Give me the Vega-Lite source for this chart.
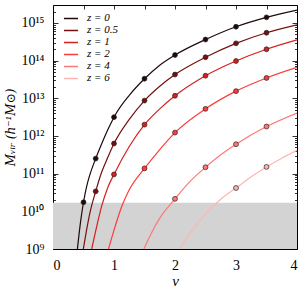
{
"$schema":"https://vega.github.io/schema/vega-lite/v6.json",
"width":244,"height":244,"autosize":{"type":"none"},
"padding":{"left":53,"top":5,"right":5,"bottom":42},
"background":"white",
"config":{"view":{"stroke":"#000","strokeWidth":1},
 "axis":{"grid":false,"domain":false,"tickColor":"#000","tickWidth":0.8,"labelFont":"Liberation Serif","labelFontSize":14,"labelColor":"#000","titleFont":"DejaVu Serif","titleColor":"#000","titleFontWeight":"normal"}},
"datasets":{
 "lines":[
  {"z":"z = 0","nu":0.4,"M":1e9},{"z":"z = 0","nu":0.45,"M":5.01e9},{"z":"z = 0","nu":0.5,"M":1.74e10},{"z":"z = 0","nu":0.55,"M":4.47e10},{"z":"z = 0","nu":0.6,"M":8.91e10},{"z":"z = 0","nu":0.7,"M":2.51e11},{"z":"z = 0","nu":0.8,"M":6.31e11},{"z":"z = 0","nu":0.9,"M":1.48e12},{"z":"z = 0","nu":1.0,"M":3.16e12},{"z":"z = 0","nu":1.25,"M":1.2e13},{"z":"z = 0","nu":1.5,"M":3.31e13},{"z":"z = 0","nu":1.75,"M":7.59e13},{"z":"z = 0","nu":2.0,"M":1.41e14},{"z":"z = 0","nu":2.5,"M":3.63e14},{"z":"z = 0","nu":3.0,"M":7.94e14},{"z":"z = 0","nu":3.5,"M":1.41e15},{"z":"z = 0","nu":4.0,"M":2.19e15},
  {"z":"z = 0.5","nu":0.497,"M":1e9},{"z":"z = 0.5","nu":0.55,"M":3.16e9},{"z":"z = 0.5","nu":0.6,"M":8.32e9},{"z":"z = 0.5","nu":0.7,"M":3.39e10},{"z":"z = 0.5","nu":0.8,"M":1.12e11},{"z":"z = 0.5","nu":0.9,"M":2.75e11},{"z":"z = 0.5","nu":1.0,"M":6.31e11},{"z":"z = 0.5","nu":1.25,"M":2.75e12},{"z":"z = 0.5","nu":1.5,"M":8.71e12},{"z":"z = 0.5","nu":1.75,"M":2.09e13},{"z":"z = 0.5","nu":2.0,"M":4.27e13},{"z":"z = 0.5","nu":2.5,"M":1.23e14},{"z":"z = 0.5","nu":3.0,"M":2.88e14},{"z":"z = 0.5","nu":3.5,"M":5.5e14},{"z":"z = 0.5","nu":4.0,"M":8.91e14},
  {"z":"z = 1","nu":0.634,"M":1e9},{"z":"z = 1","nu":0.7,"M":3.02e9},{"z":"z = 1","nu":0.8,"M":1.41e10},{"z":"z = 1","nu":0.9,"M":4.37e10},{"z":"z = 1","nu":1.0,"M":9.55e10},{"z":"z = 1","nu":1.25,"M":5.25e11},{"z":"z = 1","nu":1.5,"M":2.0e12},{"z":"z = 1","nu":1.75,"M":5.25e12},{"z":"z = 1","nu":2.0,"M":1.17e13},{"z":"z = 1","nu":2.5,"M":3.98e13},{"z":"z = 1","nu":3.0,"M":9.77e13},{"z":"z = 1","nu":3.5,"M":2.0e14},{"z":"z = 1","nu":4.0,"M":3.55e14},
  {"z":"z = 2","nu":0.91,"M":1e9},{"z":"z = 2","nu":1.0,"M":3.16e9},{"z":"z = 2","nu":1.125,"M":1.32e10},{"z":"z = 2","nu":1.25,"M":3.72e10},{"z":"z = 2","nu":1.5,"M":1.38e11},{"z":"z = 2","nu":1.75,"M":4.37e11},{"z":"z = 2","nu":2.0,"M":1.23e12},{"z":"z = 2","nu":2.5,"M":5.25e12},{"z":"z = 2","nu":3.0,"M":1.55e13},{"z":"z = 2","nu":3.5,"M":3.47e13},{"z":"z = 2","nu":4.0,"M":6.61e13},
  {"z":"z = 4","nu":1.49,"M":1e9},{"z":"z = 4","nu":1.6,"M":2.4e9},{"z":"z = 4","nu":1.75,"M":6.61e9},{"z":"z = 4","nu":2.0,"M":2.14e10},{"z":"z = 4","nu":2.25,"M":6.31e10},{"z":"z = 4","nu":2.5,"M":1.48e11},{"z":"z = 4","nu":2.75,"M":3.16e11},{"z":"z = 4","nu":3.0,"M":6.03e11},{"z":"z = 4","nu":3.5,"M":1.78e12},{"z":"z = 4","nu":4.0,"M":4.07e12},
  {"z":"z = 6","nu":2.08,"M":1e9},{"z":"z = 6","nu":2.25,"M":2.69e9},{"z":"z = 6","nu":2.5,"M":8.51e9},{"z":"z = 6","nu":2.75,"M":2.09e10},{"z":"z = 6","nu":3.0,"M":4.17e10},{"z":"z = 6","nu":3.25,"M":8.32e10},{"z":"z = 6","nu":3.5,"M":1.51e11},{"z":"z = 6","nu":3.75,"M":2.57e11},{"z":"z = 6","nu":4.0,"M":4.17e11}
 ],
 "points":[
  {"z":"z = 0","nu":0.5,"M":1.74e10},{"z":"z = 0","nu":0.7,"M":2.51e11},{"z":"z = 0","nu":1.0,"M":3.16e12},{"z":"z = 0","nu":1.5,"M":3.31e13},{"z":"z = 0","nu":2.0,"M":1.41e14},{"z":"z = 0","nu":2.5,"M":3.63e14},{"z":"z = 0","nu":3.0,"M":7.94e14},{"z":"z = 0","nu":3.5,"M":1.41e15},
  {"z":"z = 0.5","nu":0.7,"M":3.39e10},{"z":"z = 0.5","nu":1.0,"M":6.31e11},{"z":"z = 0.5","nu":1.5,"M":8.71e12},{"z":"z = 0.5","nu":2.0,"M":4.27e13},{"z":"z = 0.5","nu":2.5,"M":1.23e14},{"z":"z = 0.5","nu":3.0,"M":2.88e14},{"z":"z = 0.5","nu":3.5,"M":5.5e14},
  {"z":"z = 1","nu":1.0,"M":9.55e10},{"z":"z = 1","nu":1.5,"M":2.0e12},{"z":"z = 1","nu":2.0,"M":1.17e13},{"z":"z = 1","nu":2.5,"M":3.98e13},{"z":"z = 1","nu":3.0,"M":9.77e13},{"z":"z = 1","nu":3.5,"M":2.0e14},
  {"z":"z = 2","nu":1.5,"M":1.38e11},{"z":"z = 2","nu":2.0,"M":1.23e12},{"z":"z = 2","nu":2.5,"M":5.25e12},{"z":"z = 2","nu":3.0,"M":1.55e13},{"z":"z = 2","nu":3.5,"M":3.47e13},
  {"z":"z = 4","nu":2.0,"M":2.14e10},{"z":"z = 4","nu":2.5,"M":1.48e11},{"z":"z = 4","nu":3.0,"M":6.03e11},{"z":"z = 4","nu":3.5,"M":1.78e12},
  {"z":"z = 6","nu":3.0,"M":4.17e10},{"z":"z = 6","nu":3.5,"M":1.51e11}
 ]
},
"resolve":{"scale":{"x":"independent","y":"independent"}},
"layer":[
 {"data":{"values":[{}]},
  "mark":{"type":"rect","color":"#d3d3d3"},
  "encoding":{
   "x":{"datum":0,"type":"quantitative","scale":{"domain":[0,4],"nice":false,"zero":false},
    "axis":{"orient":"bottom","values":[0,0.5,1,1.5,2,2.5,3,3.5,4],"labelExpr":"datum.value % 1 == 0 ? format(datum.value, 'd') : ''","tickSize":-4,"labelPadding":13,"title":"ν","titleFont":"Liberation Serif","titleFontStyle":"italic","titleFontSize":15,"titlePadding":1}},
   "x2":{"datum":4},
   "y":{"datum":1e9,"type":"quantitative","scale":{"type":"log","domain":[1e9,3e15],"nice":false},
    "axis":{"orient":"left","values":[1e9,2e9,3e9,4e9,5e9,6e9,7e9,8e9,9e9,1e10,2e10,3e10,4e10,5e10,6e10,7e10,8e10,9e10,1e11,2e11,3e11,4e11,5e11,6e11,7e11,8e11,9e11,1e12,2e12,3e12,4e12,5e12,6e12,7e12,8e12,9e12,1e13,2e13,3e13,4e13,5e13,6e13,7e13,8e13,9e13,1e14,2e14,3e14,4e14,5e14,6e14,7e14,8e14,9e14,1e15,2e15],
     "labelExpr":"datum.value == 1e9 ? '10⁹' : datum.value == 1e10 ? '10¹⁰' : datum.value == 1e11 ? '10¹¹' : datum.value == 1e12 ? '10¹²' : datum.value == 1e13 ? '10¹³' : datum.value == 1e14 ? '10¹⁴' : datum.value == 1e15 ? '10¹⁵' : ''",
     "tickSize":{"condition":{"test":"indexof([1e9,1e10,1e11,1e12,1e13,1e14,1e15], datum.value) >= 0","value":-5},"value":-2.5},
     "labelPadding":14,"labelBaseline":"middle","title":"Mᵥᵢᵣ (h⁻¹M⊙)","titleFontStyle":"italic","titleFontSize":12,"titlePadding":3}},
   "y2":{"datum":1.7e10}
  }},
 {"data":{"name":"lines"},
  "mark":{"type":"line","interpolate":"monotone","strokeWidth":1.2,"clip":true},
  "encoding":{
   "x":{"field":"nu","type":"quantitative","scale":{"domain":[0,4],"nice":false,"zero":false},
    "axis":{"orient":"top","values":[0,0.5,1,1.5,2,2.5,3,3.5,4],"labels":false,"tickSize":-4,"title":null}},
   "y":{"field":"M","type":"quantitative","scale":{"type":"log","domain":[1e9,3e15],"nice":false},
    "axis":{"orient":"right","values":[1e9,2e9,3e9,4e9,5e9,6e9,7e9,8e9,9e9,1e10,2e10,3e10,4e10,5e10,6e10,7e10,8e10,9e10,1e11,2e11,3e11,4e11,5e11,6e11,7e11,8e11,9e11,1e12,2e12,3e12,4e12,5e12,6e12,7e12,8e12,9e12,1e13,2e13,3e13,4e13,5e13,6e13,7e13,8e13,9e13,1e14,2e14,3e14,4e14,5e14,6e14,7e14,8e14,9e14,1e15,2e15],
     "labels":false,"title":null,
     "tickSize":{"condition":{"test":"indexof([1e9,1e10,1e11,1e12,1e13,1e14,1e15], datum.value) >= 0","value":-5},"value":-2.5}}},
   "stroke":{"field":"z","type":"nominal",
    "scale":{"domain":["z = 0","z = 0.5","z = 1","z = 2","z = 4","z = 6"],"range":["#1e0a0a","#741010","#d81e1e","#ff3a3a","#ff7878","#ffb4b4"]},
    "legend":{"orient":"none","legendX":10,"legendY":8,"title":null,"symbolType":"stroke","symbolSize":196,"symbolStrokeWidth":1.5,"labelFont":"Liberation Serif","labelFontStyle":"italic","labelFontSize":11,"labelOffset":8,"rowPadding":0,"clipHeight":10.8,"padding":0,"labelColor":"#000"}}
  }},
 {"data":{"name":"points"},
  "mark":{"type":"circle","size":24,"opacity":1,"stroke":"#222","strokeWidth":0.7},
  "encoding":{
   "x":{"field":"nu","type":"quantitative","scale":{"domain":[0,4],"nice":false,"zero":false},"axis":null},
   "y":{"field":"M","type":"quantitative","scale":{"type":"log","domain":[1e9,3e15],"nice":false},"axis":null},
   "fill":{"field":"z","type":"nominal",
    "scale":{"domain":["z = 0","z = 0.5","z = 1","z = 2","z = 4","z = 6"],"range":["#1e0a0a","#741010","#d81e1e","#ff3a3a","#ff7878","#ffb4b4"]},
    "legend":null}
  }}
]
}
